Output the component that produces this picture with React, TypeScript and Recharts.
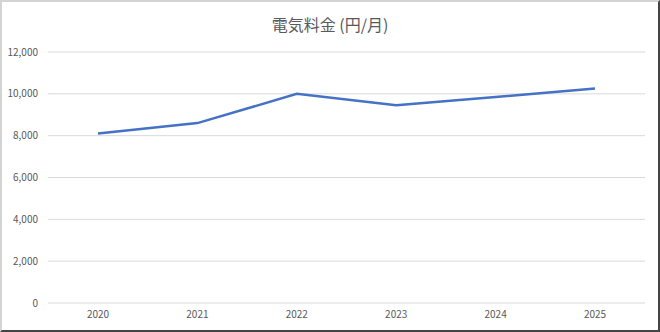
import { CartesianGrid, Line, LineChart, XAxis, YAxis } from "recharts";

const years = ["2020", "2021", "2022", "2023", "2024", "2025"];
const monthlyCost = [8100, 8600, 10000, 9450, 9850, 10250];
const yTicks = [0, 2000, 4000, 6000, 8000, 10000, 12000];

const data = years.map((year, i) => ({ year, cost: monthlyCost[i] }));

const font = '"Noto Sans CJK JP", "Noto Sans", sans-serif';

export default function App() {
  return (
    <div
      style={{
        position: "fixed",
        top: 0,
        left: 0,
        width: 660,
        height: 332,
        boxSizing: "border-box",
        background: "#fff",
        borderTop: "2px solid #d4d4d4",
        borderLeft: "2px solid #d4d4d4",
        borderRight: "2px solid #444",
        borderBottom: "2px solid #444",
        fontFamily: font,
      }}
    >
      <div
        style={{
          position: "absolute",
          top: 10,
          left: 0,
          width: "100%",
          textAlign: "center",
          fontSize: 16,
          color: "#595959",
        }}
      >
        電気料金 (円/月)
      </div>
      <div style={{ position: "absolute", top: -2, left: -2 }}>
        <LineChart
          width={660}
          height={332}
          data={data}
          margin={{ top: 52, right: 15, left: 0, bottom: 0 }}
        >
          <CartesianGrid stroke="#d9d9d9" vertical={false} />
          <XAxis
            dataKey="year"
            axisLine={false}
            tickLine={false}
            height={29}
            padding={{ left: 50, right: 50 }}
            tick={{ fill: "#595959", fontSize: 10, fontFamily: font }}
          />
          <YAxis
            domain={[0, 12000]}
            ticks={yTicks}
            axisLine={false}
            tickLine={false}
            width={48}
            tickMargin={4}
            tickFormatter={(v: number) => v.toLocaleString("en-US")}
            tick={{ fill: "#595959", fontSize: 10, fontFamily: font }}
          />
          <Line
            dataKey="cost"
            stroke="#4472c4"
            strokeWidth={2.5}
            dot={false}
            isAnimationActive={false}
          />
        </LineChart>
      </div>
    </div>
  );
}
